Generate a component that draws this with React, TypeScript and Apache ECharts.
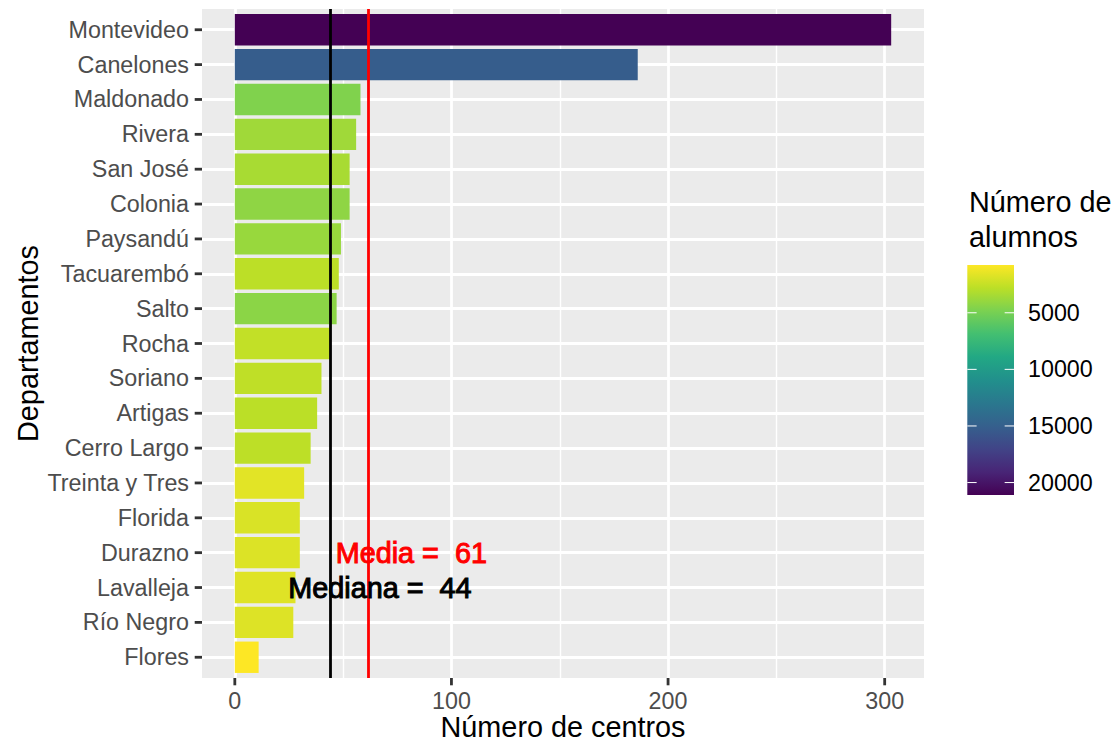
import React, { useEffect, useRef } from "react";
import * as echarts from "echarts";

// ---- data ----
const departments = [
  "Montevideo", "Canelones", "Maldonado", "Rivera", "San José", "Colonia",
  "Paysandú", "Tacuarembó", "Salto", "Rocha", "Soriano", "Artigas",
  "Cerro Largo", "Treinta y Tres", "Florida", "Durazno", "Lavalleja",
  "Río Negro", "Flores",
];
const centros = [303, 186, 58, 56, 53, 53, 49, 48, 47, 44, 40, 38, 35, 32, 30, 30, 28, 27, 11];
const alumnos = [
  21100, 15200, 4650, 3670, 3400, 4200, 3900, 2770, 4300, 2600, 2700, 2800,
  2750, 1600, 1900, 1800, 1700, 1750, 780,
];
const xTicks = [0, 100, 200, 300];
const xMinorTicks = [50, 150, 250];
const legendTicks = [5000, 10000, 15000, 20000];
const viridisLowToHigh = [
  "#FDE725", "#BBDF27", "#7AD151", "#43BF71", "#22A884", "#21908C",
  "#2A788E", "#35608D", "#414487", "#482576", "#440154",
];
const meanLabelRow = "Durazno";
const medianLabelRow = "Lavalleja";
const meanLabelOffset = 20;
const medianLabelOffset = 23;

// ---- derived ----
const mean = centros.reduce((a, b) => a + b, 0) / centros.length;
const sorted = [...centros].sort((a, b) => a - b);
const median = sorted[Math.floor(sorted.length / 2)];
const maxCount = Math.max(...centros);
const xMin = -0.05 * maxCount;
const xMax = maxCount * 1.05;
const vMin = Math.min(...alumnos);
const vMax = Math.max(...alumnos);

const FONT = "'Liberation Sans', Arial, Helvetica, sans-serif";

// layout
const P = { left: 202, top: 9, width: 722, height: 669 };
const band = P.height / (departments.length + 1.2);
const pad = 0.1 * band;
const AXIS_TXT = 23.3;
const TITLE_TXT = 28.8;
const TICK_LEN = 7.3;
const CB = { x: 967.3, y: 265, w: 46.7, h: 230 };

export default function App() {
  const ref = useRef<HTMLDivElement>(null);
  useEffect(() => {
    if (!ref.current) return;
    const chart = echarts.init(ref.current, null, { renderer: "svg" });

    const option: any = {
      animation: false,
      textStyle: { fontFamily: FONT },
      grid: [
        { left: P.left, top: P.top, width: P.width, height: P.height, show: true, backgroundColor: "#EBEBEB", borderWidth: 0 },
        { left: P.left, top: P.top + pad, width: P.width, height: P.height - 2 * pad },
      ],
      xAxis: [
        {
          gridIndex: 0, type: "value", min: xMin, max: xMax,
          axisLine: { show: false, onZero: false },
          axisTick: { show: false, customValues: xTicks },
          axisLabel: { customValues: xTicks, color: "#4D4D4D", fontSize: AXIS_TXT, fontFamily: FONT, margin: 11 },
          splitLine: { show: true, lineStyle: { color: "#FFFFFF", width: 2.8 } },
        },
        { gridIndex: 1, type: "value", min: xMin, max: xMax, show: false },
        {
          gridIndex: 0, type: "value", min: xMin, max: xMax,
          axisLine: { show: false, onZero: false },
          axisTick: { show: false, customValues: xMinorTicks },
          axisLabel: { show: false, customValues: xMinorTicks },
          splitLine: { show: true, lineStyle: { color: "#FFFFFF", width: 1.4 } },
        },
      ],
      yAxis: [
        { gridIndex: 0, type: "value", min: 0, max: 1, show: false },
        {
          gridIndex: 1, type: "category", data: departments, inverse: true,
          axisLine: { show: false, onZero: false },
          axisTick: { show: false },
          axisLabel: { color: "#4D4D4D", fontSize: AXIS_TXT, fontFamily: FONT, margin: 13 },
          splitLine: { show: false },
        },
      ],
      visualMap: {
        show: false, type: "continuous", dimension: 2, seriesIndex: 0,
        min: vMin, max: vMax, inRange: { color: viridisLowToHigh },
      },
      series: [
        {
          type: "bar", xAxisIndex: 1, yAxisIndex: 1, z: 2, barWidth: "90%",
          encode: { x: 0, y: 1 },
          data: departments.map((d, i) => [centros[i], d, alumnos[i]]),
        },
        {
          type: "scatter", xAxisIndex: 1, yAxisIndex: 1, z: 1, symbolSize: 0, silent: true,
          data: [[0, departments[0]]],
          markLine: {
            z: 1, silent: true, symbol: ["none", "none"], label: { show: false },
            lineStyle: { color: "#FFFFFF", width: 2.8, type: "solid" },
            emphasis: { disabled: true },
            data: departments.map((d) => ({ yAxis: d })),
          },
        },
        {
          type: "scatter", xAxisIndex: 0, yAxisIndex: 0, z: 3, symbolSize: 0, silent: true,
          data: [[0, 0.5]],
          markLine: {
            z: 3, silent: true, symbol: ["none", "none"], label: { show: false },
            emphasis: { disabled: true },
            data: [
              { xAxis: mean, lineStyle: { color: "#FF0000", width: 2.8, type: "solid", opacity: 1 } },
              { xAxis: median, lineStyle: { color: "#000000", width: 2.8, type: "solid", opacity: 1 } },
            ],
          },
        },
        {
          type: "scatter", xAxisIndex: 1, yAxisIndex: 1, z: 6, symbolSize: 0, silent: true,
          itemStyle: { opacity: 1 },
          data: [
            {
              value: [mean + meanLabelOffset, meanLabelRow],
              label: { formatter: "Media =  " + Math.round(mean), color: "#FF0000", textBorderColor: "#FF0000" },
            },
            {
              value: [median + medianLabelOffset, medianLabelRow],
              label: { formatter: "Mediana =  " + Math.round(median), color: "#000000", textBorderColor: "#000000" },
            },
          ],
          label: {
            show: true, position: "inside", fontSize: TITLE_TXT, fontFamily: FONT, opacity: 1,
            textBorderWidth: 1, align: "center", verticalAlign: "middle",
          },
        },
      ],
    };
    chart.setOption(option);

    // graphics: titles, axis tick marks (positioned through the axes' own scales), colour bar legend
    const gfx: any[] = [
      {
        type: "text", x: P.left + P.width / 2, y: 727,
        style: { text: "Número de centros", fontSize: TITLE_TXT, fontFamily: FONT, fill: "#000000", align: "center", verticalAlign: "middle" },
      },
      {
        type: "text", x: 28, y: P.top + P.height / 2, rotation: Math.PI / 2,
        style: { text: "Departamentos", fontSize: TITLE_TXT, fontFamily: FONT, fill: "#000000", align: "center", verticalAlign: "middle" },
      },
      {
        type: "text", x: 969, y: 202,
        style: { text: "Número de", fontSize: TITLE_TXT, fontFamily: FONT, fill: "#000000", align: "left", verticalAlign: "middle" },
      },
      {
        type: "text", x: 969, y: 237,
        style: { text: "alumnos", fontSize: TITLE_TXT, fontFamily: FONT, fill: "#000000", align: "left", verticalAlign: "middle" },
      },
    ];
    const panelBottom = P.top + P.height;
    xTicks.forEach((t) => {
      const px = chart.convertToPixel({ xAxisIndex: 0 }, t) as number;
      gfx.push({
        type: "line", shape: { x1: px, y1: panelBottom, x2: px, y2: panelBottom + TICK_LEN },
        style: { stroke: "#333333", lineWidth: 2.8 },
      });
    });
    departments.forEach((d) => {
      const py = chart.convertToPixel({ yAxisIndex: 1 }, d) as number;
      gfx.push({
        type: "line", shape: { x1: P.left - TICK_LEN, y1: py, x2: P.left, y2: py },
        style: { stroke: "#333333", lineWidth: 2.8 },
      });
    });

    const cbY = (v: number) => CB.y + ((v - vMin) / (vMax - vMin)) * CB.h;
    gfx.push({
      type: "rect",
      shape: { x: CB.x, y: CB.y, width: CB.w, height: CB.h },
      style: {
        fill: new echarts.graphic.LinearGradient(
          0, 0, 0, 1,
          viridisLowToHigh.map((c, i) => ({ offset: i / (viridisLowToHigh.length - 1), color: c }))
        ),
      },
    });
    legendTicks.forEach((v) => {
      const y = cbY(v);
      gfx.push(
        { type: "line", shape: { x1: CB.x, y1: y, x2: CB.x + CB.w * 0.2, y2: y }, style: { stroke: "#FFFFFF", lineWidth: 1 } },
        { type: "line", shape: { x1: CB.x + CB.w * 0.8, y1: y, x2: CB.x + CB.w, y2: y }, style: { stroke: "#FFFFFF", lineWidth: 1 } },
        {
          type: "text", x: 1028, y,
          style: { text: String(v), fontSize: AXIS_TXT, fontFamily: FONT, fill: "#000000", align: "left", verticalAlign: "middle" },
        }
      );
    });
    chart.setOption({ graphic: gfx });

    return () => chart.dispose();
  }, []);
  return (
    <div
      ref={ref}
      style={{ position: "absolute", left: 0, top: 0, width: 1115, height: 747, background: "#FFFFFF" }}
    />
  );
}
